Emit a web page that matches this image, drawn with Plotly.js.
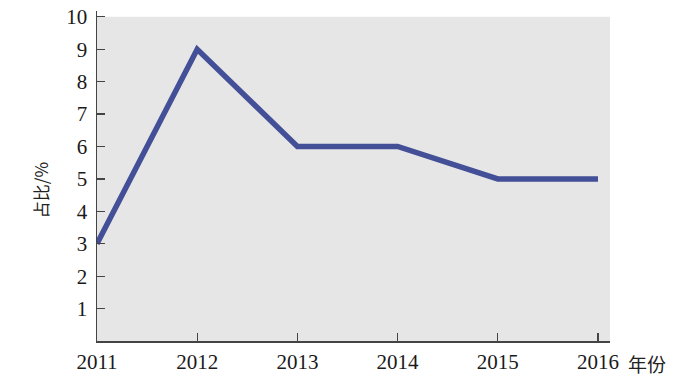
<!DOCTYPE html>
<html><head><meta charset="utf-8">
<script src="https://cdn.plot.ly/plotly-3.0.1.min.js"></script>
<style>html,body{margin:0;padding:0;background:#fff}#c{width:685px;height:383px}</style>
</head><body><div id="c"></div>
<script>
const years = [2011, 2012, 2013, 2014, 2015, 2016];
const share = [3, 9, 6, 6, 5, 5];
const yTicks = [1, 2, 3, 4, 5, 6, 7, 8, 9, 10];
const xLabel = "年份";
const yLabel = "占比/%";

const serif = "'Liberation Serif', 'Times New Roman', serif";
const trace = {
  x: years, y: share, type: "scatter", mode: "lines",
  line: {color: "#434f97", width: 5.5},
  cliponaxis: false, hoverinfo: "skip"
};
const layout = {
  width: 685, height: 383,
  margin: {l: 97, r: 75, t: 11, b: 42},
  paper_bgcolor: "#fff", plot_bgcolor: "#fff",
  showlegend: false,
  font: {family: serif, size: 21, color: "#1a1a1a"},
  xaxis: {
    range: [2011, 2016.12], tickvals: years, ticktext: years.map(String),
    ticks: "inside", ticklen: 8, tickcolor: "#444", tickwidth: 1.2,
    showline: true, linecolor: "#444", linewidth: 1.5,
    showgrid: false, zeroline: false, ticklabelstandoff: 1,
    tickfont: {family: serif, size: 21, color: "#1a1a1a"}
  },
  yaxis: {
    range: [0, 10.18], tickvals: yTicks, ticktext: yTicks.map(String),
    ticks: "inside", ticklen: 8, tickcolor: "#444", tickwidth: 1.2,
    showline: true, linecolor: "#444", linewidth: 1.5,
    showgrid: false, zeroline: false, ticklabelstandoff: 4,
    tickfont: {family: serif, size: 21, color: "#1a1a1a"}
  },
  shapes: [{
    type: "rect", xref: "x", yref: "y", x0: 2011, x1: 2016.12, y0: 0, y1: 10,
    fillcolor: "#e6e6e6", line: {width: 0}, layer: "below"
  }],
  annotations: [
    {text: yLabel, xref: "paper", yref: "paper", x: -0.111, y: 0.457, xanchor: "center", yanchor: "middle",
     textangle: -90, showarrow: false, font: {family: "'Noto Sans CJK SC', sans-serif", size: 17, color: "#222"}},
    {text: xLabel, xref: "paper", yref: "paper", x: 1.031, y: -0.02, xanchor: "left", yanchor: "top",
     showarrow: false, font: {family: "'Noto Sans CJK SC', sans-serif", size: 19, color: "#222"}}
  ]
};
Plotly.newPlot("c", [trace], layout, {displayModeBar: false, staticPlot: true});
</script></body></html>
